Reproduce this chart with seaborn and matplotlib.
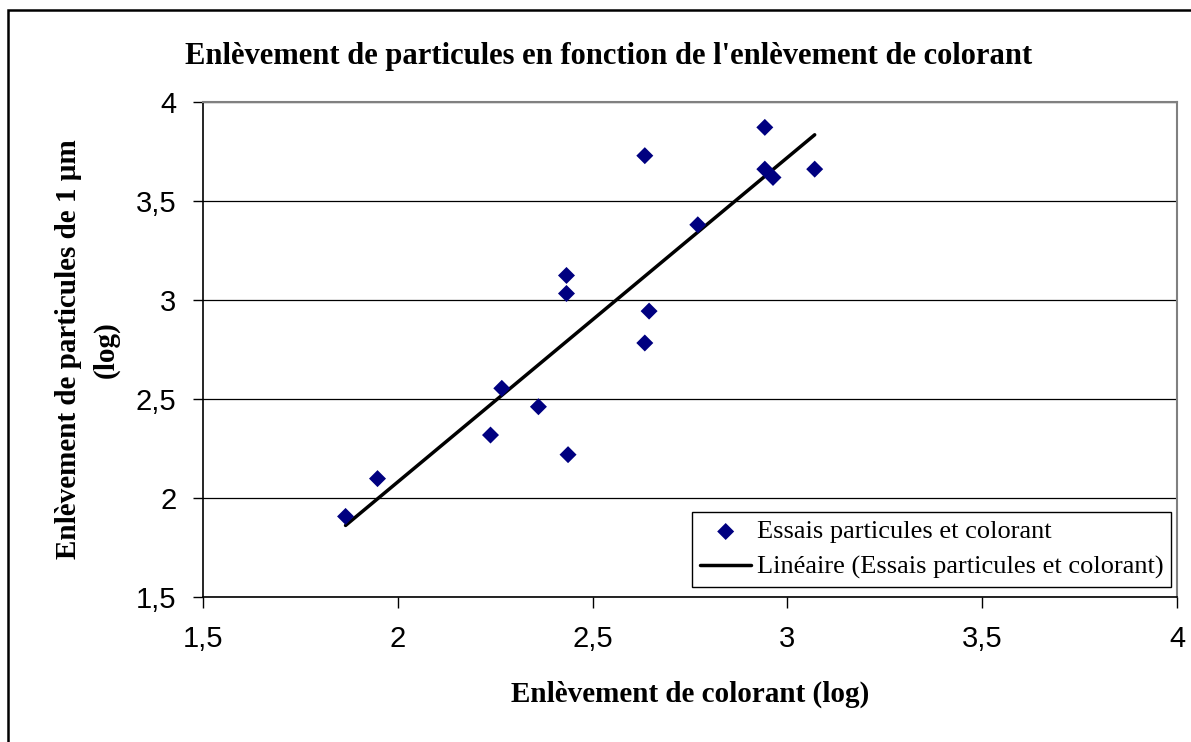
import numpy as np
import matplotlib
matplotlib.use("Agg")
import matplotlib.pyplot as plt
import seaborn as sns
from matplotlib.patches import Rectangle

# enlèvement de colorant (log) vs enlèvement de particules 1 µm (log)
colorant = [1.866, 1.948, 2.238, 2.267, 2.361, 2.437, 2.433, 2.433,
            2.634, 2.645, 2.634, 2.770, 2.942, 2.942, 2.963, 3.070]
particules = [1.907, 2.098, 2.318, 2.554, 2.461, 2.219, 3.124, 3.033,
              3.729, 2.944, 2.783, 3.380, 3.872, 3.661, 3.619, 3.661]

xticks = [1.5, 2, 2.5, 3, 3.5, 4]
yticks = [1.5, 2, 2.5, 3, 3.5, 4]
tick_labels = ["1,5", "2", "2,5", "3", "3,5", "4"]

sns.set_theme(style="white")
plt.rcParams["font.family"] = ["Liberation Serif", "DejaVu Serif"]
plt.rcParams.update({"text.color": "black", "axes.labelcolor": "black",
                     "xtick.color": "black", "ytick.color": "black"})

fig = plt.figure(figsize=(11.91, 7.42), dpi=100)
ax = fig.add_axes([0.1704, 0.1954, 0.8179, 0.6671])

sns.scatterplot(x=colorant, y=particules, ax=ax, marker="D", s=75,
                color="#000080", edgecolor="none",
                label="Essais particules et colorant", zorder=3)
sns.regplot(x=np.array(colorant), y=np.array(particules), ax=ax, scatter=False,
            ci=None, truncate=True, color="black",
            label="Linéaire (Essais particules et colorant)",
            line_kws={"color": "black", "lw": 2.5})

ax.set_xlim(1.5, 4)
ax.set_ylim(1.5, 4)
ax.set_xticks(xticks)
ax.set_yticks(yticks)
ax.set_xticklabels(tick_labels, family="Liberation Sans", fontsize=21)
ax.set_yticklabels(tick_labels, family="Liberation Sans", fontsize=21)
ax.tick_params(axis="x", direction="out", length=8, width=1, pad=12, bottom=True)
ax.tick_params(axis="y", direction="out", length=7, width=1, pad=12, left=True)

ax.grid(axis="y", color="black", lw=0.9)
ax.grid(axis="x", visible=False)
for side in ["left", "bottom"]:
    ax.spines[side].set_color("black")
    ax.spines[side].set_linewidth(1.2)
for side in ["top", "right"]:
    ax.spines[side].set_color("#808080")
    ax.spines[side].set_linewidth(1.5)

ax.set_xlabel("Enlèvement de colorant (log)", fontsize=21, fontweight="bold", labelpad=20)
ax.set_ylabel("Enlèvement de particules de 1 µm\n(log)", fontsize=21,
              fontweight="bold", labelpad=12, linespacing=1.45)
fig.text(0.511, 0.924, "Enlèvement de particules en fonction de l'enlèvement de colorant",
         ha="center", va="center", fontsize=22, fontweight="bold")

leg = ax.legend(loc="lower right", bbox_to_anchor=(0.994, 0.02), fontsize=19,
                frameon=True, fancybox=False, framealpha=1, edgecolor="black",
                handlelength=1.95, handletextpad=0.2, borderpad=0.3,
                labelspacing=0.45, borderaxespad=0)
leg.get_frame().set_linewidth(1.0)

fig.patches.append(Rectangle((8 / 1191, -0.05), 1.1, 1 - 10 / 742 + 0.05,
                             transform=fig.transFigure, fill=False,
                             edgecolor="black", lw=1.8))

fig.savefig("out.png", dpi=100)
